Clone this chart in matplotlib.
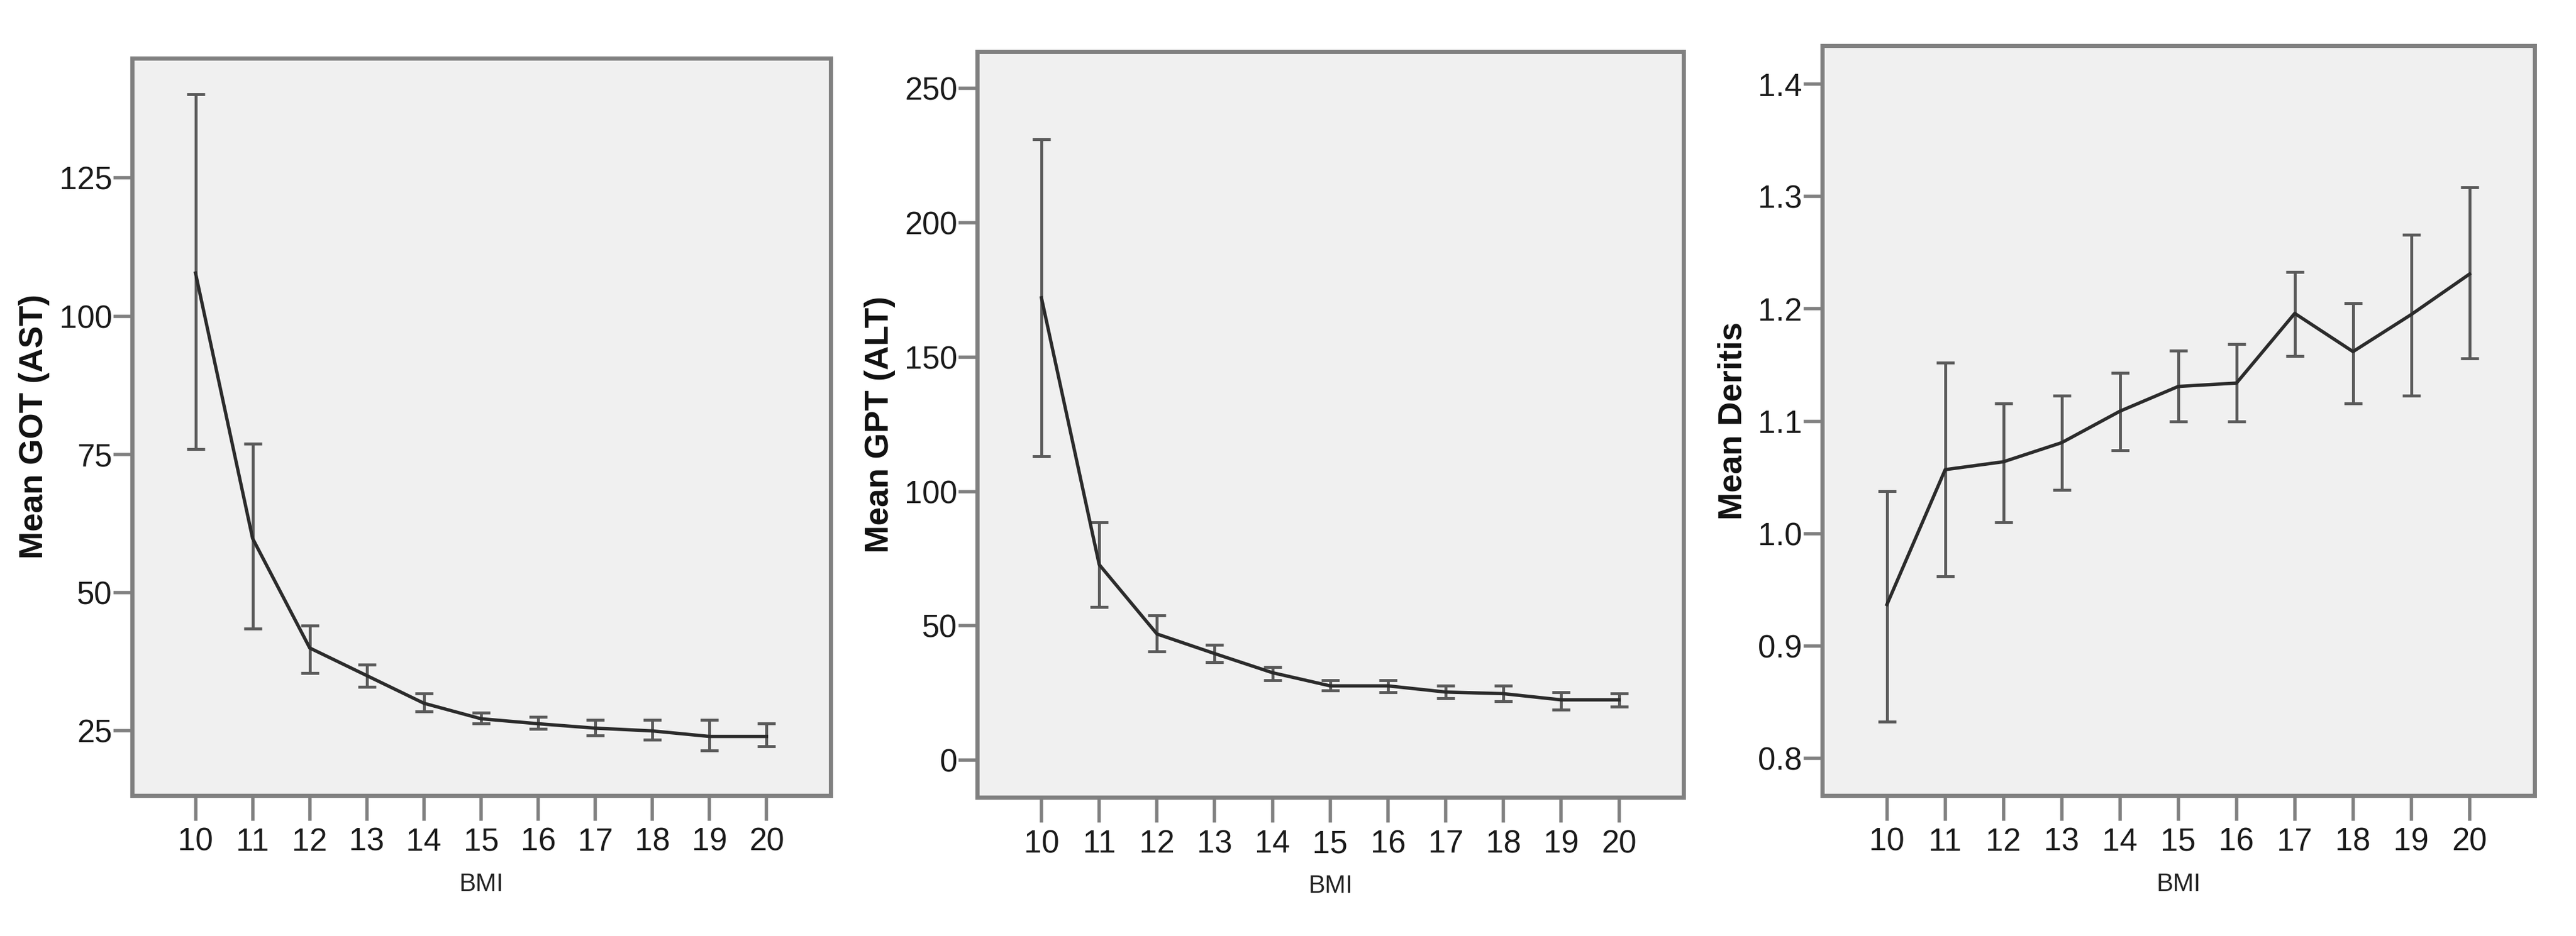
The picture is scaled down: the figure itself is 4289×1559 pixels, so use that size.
import numpy as np
import matplotlib
matplotlib.use("Agg")
import matplotlib.pyplot as plt

plt.rcParams['font.family'] = ['Liberation Sans', 'DejaVu Sans']

# ------------------------------------- Data ----------#
bmi = [10, 11, 12, 13, 14, 15, 16, 17, 18, 19, 20]

got_mean = [107.8, 59.8, 40.0, 35.0, 30.0, 27.2, 26.3, 25.5, 25.0, 24.0, 24.0]
got_high = [140.1, 77.0, 44.0, 37.0, 31.8, 28.3, 27.5, 27.0, 27.0, 27.0, 26.3]
got_low = [76.0, 43.5, 35.5, 33.0, 28.5, 26.3, 25.4, 24.2, 23.4, 21.5, 22.2]

gpt_mean = [172.0, 72.8, 47.0, 39.7, 32.6, 27.7, 27.7, 25.4, 24.8, 22.5, 22.5]
gpt_high = [231.0, 88.4, 54.0, 43.0, 34.8, 29.7, 29.7, 27.7, 27.7, 25.4, 24.8]
gpt_low = [113.0, 57.0, 40.6, 36.6, 29.9, 25.9, 25.4, 23.0, 22.0, 18.8, 19.9]

der_mean = [0.937, 1.057, 1.064, 1.081, 1.109, 1.131, 1.134, 1.196, 1.162, 1.195, 1.231]
der_high = [1.038, 1.152, 1.116, 1.123, 1.143, 1.163, 1.169, 1.233, 1.205, 1.266, 1.308]
der_low = [0.833, 0.962, 1.010, 1.039, 1.074, 1.100, 1.100, 1.158, 1.116, 1.123, 1.156]

panels = [
    ("Mean GOT (AST)", got_mean, got_low, got_high, [25, 50, 75, 100, 125], (13.3, 146.7), "{:.0f}"),
    ("Mean GPT (ALT)", gpt_mean, gpt_low, gpt_high, [0, 50, 100, 150, 200, 250], (-13.8, 263.6), "{:.0f}"),
    ("Mean Deritis", der_mean, der_low, der_high, [0.8, 0.9, 1.0, 1.1, 1.2, 1.3, 1.4], (0.767, 1.434), "{:.1f}"),
]

# axes rectangles in figure fractions, and y label x position (axes coords)
rects = [
    [0.0513, 0.150, 0.2711, 0.788],
    [0.3794, 0.148, 0.2742, 0.797],
    [0.7074, 0.150, 0.2766, 0.801],
]
ylab_x = [-0.118, -0.116, -0.103]

fig = plt.figure(figsize=(42.89, 15.59), dpi=100)

for (ylab, mean, low, high, yt, ylim, fmt), rect, lx in zip(panels, rects, ylab_x):
    ax = fig.add_axes(rect)
    ax.set_facecolor('#f0f0f0')
    mean = np.array(mean)
    err = [mean - np.array(low), np.array(high) - mean]
    ax.errorbar(bmi, mean, yerr=err, fmt='none', ecolor='#5a5a5a',
                elinewidth=3.5, capsize=11, capthick=3.5)
    ax.plot(bmi, mean, color='#2b2b2b', lw=4)

    ax.set_xlim(8.89, 21.12)
    ax.set_ylim(*ylim)
    ax.set_xticks(bmi)
    ax.set_yticks(yt)
    ax.set_yticklabels([fmt.format(v) for v in yt])

    for s in ax.spines.values():
        s.set_color('#808080')
        s.set_linewidth(5)
    ax.tick_params(axis='y', length=22, width=4, color='#808080', labelsize=38,
                   labelcolor='#1a1a1a', pad=2)
    ax.tick_params(axis='x', length=30, width=4, color='#808080', labelsize=38,
                   labelcolor='#1a1a1a', pad=8)

    ax.set_xlabel('BMI', fontsize=30, color='#222222', labelpad=18)
    ax.set_ylabel(ylab, fontsize=40, fontweight='bold', color='#111111')
    ax.yaxis.set_label_coords(lx, 0.5)

fig.savefig('out.png', dpi=100, facecolor='white')
